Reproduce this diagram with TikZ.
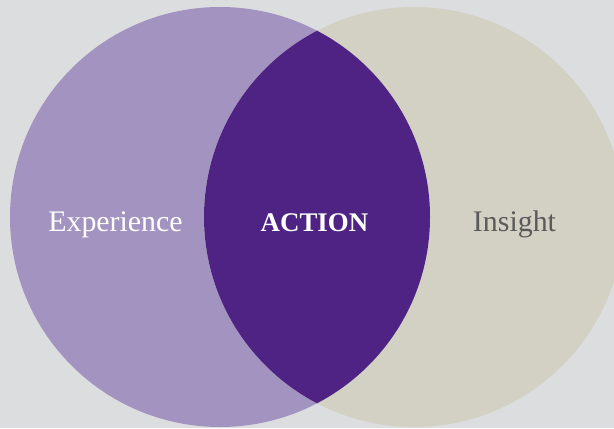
\documentclass[tikz,border=0pt]{standalone}
\usepackage{fontspec}
\setmainfont{Liberation Serif}
\definecolor{fond}{RGB}{220,221,223}
\definecolor{lilas}{RGB}{163,147,192}
\definecolor{pourpre}{RGB}{79,35,131}
\definecolor{beige}{RGB}{211,209,196}
\definecolor{gristexte}{RGB}{90,90,90}

\begin{document}
\begin{tikzpicture}[x=1bp,y=1bp]
\useasboundingbox (0,0) rectangle (614,428);
\clip (0,0) rectangle (614,428);

\fill [fond] (0,0) rectangle (614,428);

\fill [lilas] (220,211) circle (210);
\fill [beige] (414,211) circle (210);
\begin{scope}
\clip (220,211) circle (210);
\fill [pourpre] (414,211) circle (210);
\end{scope}

\node [white, anchor=base, font=\fontsize{30}{30}\selectfont] (experience) at (115.5,197) {Experience};
\node [white, anchor=base, font=\fontsize{27}{27}\selectfont\bfseries] (action) at (314.5,197) {ACTION};
\node [gristexte, anchor=base, font=\fontsize{30}{30}\selectfont] (insight) at (514.5,197) {Insight};

\end{tikzpicture}
\end{document}
